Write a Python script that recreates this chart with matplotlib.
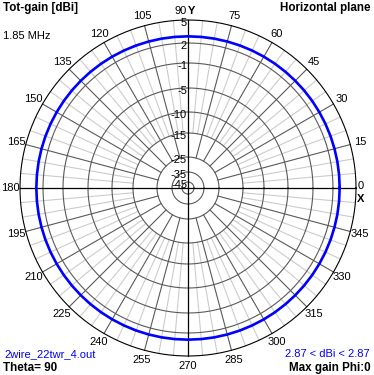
import numpy as np
import matplotlib
matplotlib.use("Agg")
import matplotlib.pyplot as plt

# pattern data (horizontal plane, theta = 90)
phi_deg = np.arange(0, 361, 5)
gain_dbi = np.full(phi_deg.shape, 2.87)

# ring values printed along the vertical axis
ring_db = [5, 2, -1, -5, -10, -15, -25, -35, -45]
ring_labels = ["5", "2", "-1", "-5", "-10", "-15", "-25", "-35", "-45"]
angle_ticks = list(range(0, 360, 15))

# log-like radial scale of the program (fraction of outer radius per ring)
scale_db = [-45, -35, -25, -15, -10, -5, -1, 2, 5]
scale_r = [6 / 168, 16 / 168, 31 / 168, 55 / 168, 76 / 168, 100 / 168, 125 / 168, 145 / 168, 1.0]


def rad(db):
    return np.interp(db, scale_db, scale_r)


W, H = 374, 375
fig = plt.figure(figsize=(W / 100, H / 100), dpi=100)
plt.rcParams["font.family"] = ["Liberation Sans", "DejaVu Sans"]

cx, cy, R = 188, 188, 168
ax = fig.add_axes([(cx - R) / W, 1 - (cy + R) / H, 2 * R / W, 2 * R / H], projection="polar")
ax.set_ylim(0, 1)
ax.axis("off")

dark = "#5a5a5a"
light = "#cccccc"
th = np.linspace(0, 2 * np.pi, 721)

# light spokes every 5 deg
for a in range(0, 360, 5):
    if a % 15:
        ax.plot([np.radians(a)] * 2, [rad(-15), 1], color=light, lw=0.8, clip_on=False, zorder=1)
# dark spokes every 15 deg
for a in angle_ticks:
    if a % 90:
        ax.plot([np.radians(a)] * 2, [rad(-25), 1], color=dark, lw=0.8, clip_on=False, zorder=2)
# rings
for db in ring_db[1:]:
    ax.plot(th, np.full(th.shape, rad(db)), color=dark, lw=0.8, clip_on=False, zorder=2)
ax.plot(th, np.ones(th.shape), color="black", lw=0.8, clip_on=False, zorder=3)
# main axes
for a in (0, 90):
    ax.plot([np.radians(a), np.radians(a + 180)], [1, 1], color="black", lw=0.9, clip_on=False, zorder=3)

# pattern
ax.plot(np.radians(phi_deg), rad(gain_dbi), color="#0000ff", lw=1.9, clip_on=False, zorder=4)

fs = 8
fb = 8.4
# angle labels
for a in angle_ticks:
    if a in (0, 90):
        continue
    ax.text(np.radians(a), 1.06, str(a), ha="center", va="center", fontsize=fs, clip_on=False)


def px(x, y):
    return x / W, 1 - y / H


fig.text(*px(187, 11), "90", ha="right", va="center", fontsize=fs)
fig.text(*px(188, 11), "Y", ha="left", va="center", fontsize=fs, fontweight="bold")
fig.text(*px(361, 186), "0", ha="center", va="center", fontsize=fs)
fig.text(*px(361, 199), "X", ha="center", va="center", fontsize=fs, fontweight="bold")

# dB labels along the vertical axis
for db, lab in zip(ring_db, ring_labels):
    y = cy - rad(db) * R + 3
    fig.text(*px(187, y), lab, ha="right", va="center", fontsize=fs)

fig.text(*px(3, 8), "Tot-gain [dBi]", ha="left", va="center", fontsize=fb, fontweight="bold")
fig.text(*px(3, 36), "1.85 MHz", ha="left", va="center", fontsize=fs)
fig.text(*px(370, 8), "Horizontal plane", ha="right", va="center", fontsize=fb, fontweight="bold")
fig.text(*px(4, 354), "2wire_22twr_4.out", ha="left", va="center", fontsize=fs, color="#0000ff")
fig.text(*px(3, 368), "Theta= 90", ha="left", va="center", fontsize=fb, fontweight="bold")
fig.text(*px(370, 354), "%.2f < dBi < %.2f" % (gain_dbi.min(), gain_dbi.max()),
         ha="right", va="center", fontsize=fs, color="#0000ff")
fig.text(*px(371, 368), "Max gain Phi:%d" % phi_deg[np.argmax(gain_dbi)],
         ha="right", va="center", fontsize=fb, fontweight="bold")

fig.savefig("out.png", dpi=100, facecolor="white")
